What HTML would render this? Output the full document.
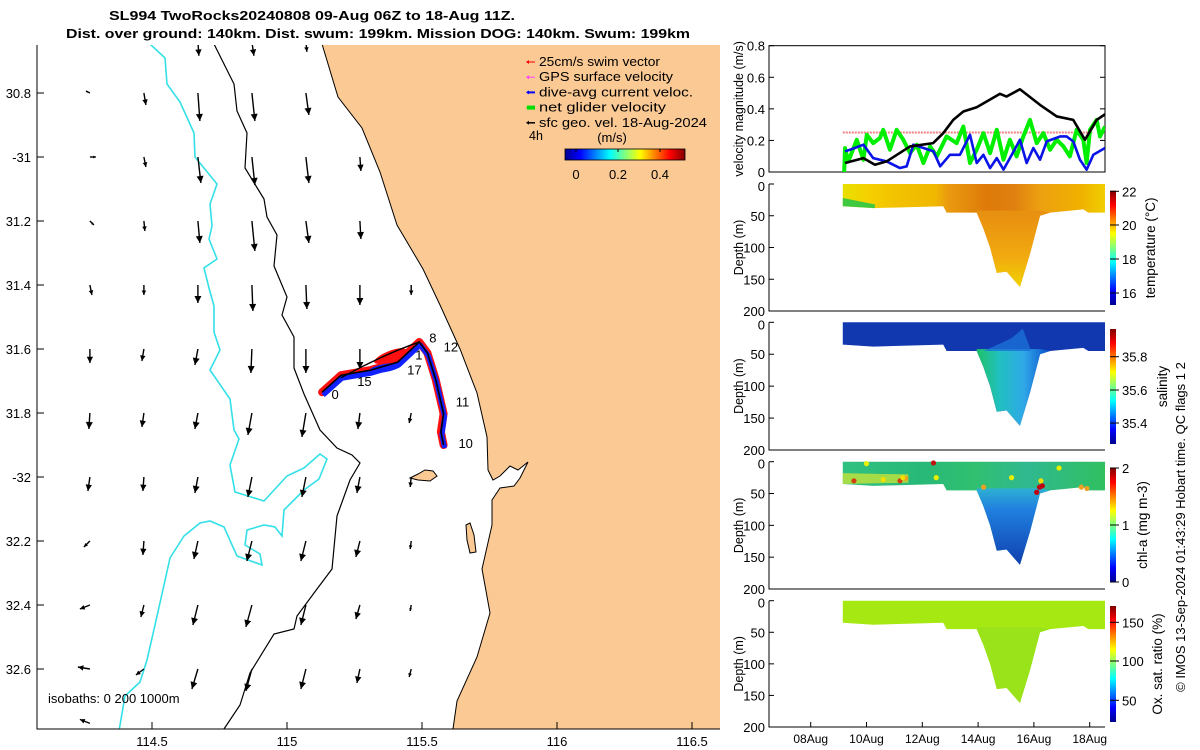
<!DOCTYPE html>
<html><head><meta charset="utf-8">
<style>
html,body{margin:0;padding:0;background:#fff;}
svg{display:block;font-family:"Liberation Sans","DejaVu Sans",sans-serif;}
</style></head>
<body>
<svg id="fig" width="1200" height="750" viewBox="0 0 1200 750" xmlns="http://www.w3.org/2000/svg">
<defs>
<linearGradient id="jetH" x1="0" y1="0" x2="1" y2="0">
<stop offset="0" stop-color="#00008f"/><stop offset="0.125" stop-color="#0000ff"/><stop offset="0.375" stop-color="#00ffff"/><stop offset="0.625" stop-color="#ffff00"/><stop offset="0.875" stop-color="#ff0000"/><stop offset="1" stop-color="#800000"/>
</linearGradient>
<linearGradient id="jetV" x1="0" y1="1" x2="0" y2="0">
<stop offset="0" stop-color="#00008f"/><stop offset="0.125" stop-color="#0000ff"/><stop offset="0.375" stop-color="#00ffff"/><stop offset="0.625" stop-color="#ffff00"/><stop offset="0.875" stop-color="#ff0000"/><stop offset="1" stop-color="#800000"/>
</linearGradient>
<linearGradient id="tempG" x1="843" y1="0" x2="1106" y2="0" gradientUnits="userSpaceOnUse">
<stop offset="0" stop-color="#e8e000"/><stop offset="0.1" stop-color="#f5d000"/><stop offset="0.2" stop-color="#f2c200"/><stop offset="0.35" stop-color="#f0b800"/><stop offset="0.4" stop-color="#ea9a10"/><stop offset="0.55" stop-color="#dd7a08"/><stop offset="0.65" stop-color="#e08010"/><stop offset="0.75" stop-color="#eca010"/><stop offset="0.9" stop-color="#f0b000"/><stop offset="1" stop-color="#f0d000"/>
</linearGradient>
<linearGradient id="tempTr" x1="0" y1="215" x2="0" y2="285" gradientUnits="userSpaceOnUse">
<stop offset="0" stop-color="#e89010"/><stop offset="0.6" stop-color="#f2aa10"/><stop offset="1" stop-color="#f0d000"/>
</linearGradient>
<linearGradient id="salTr" x1="975" y1="0" x2="1045" y2="0" gradientUnits="userSpaceOnUse">
<stop offset="0" stop-color="#20c060"/><stop offset="0.35" stop-color="#20c0c0"/><stop offset="0.7" stop-color="#30a8e8"/><stop offset="1" stop-color="#1060d0"/>
</linearGradient>
<linearGradient id="chlG" x1="843" y1="0" x2="1106" y2="0" gradientUnits="userSpaceOnUse">
<stop offset="0" stop-color="#30c080"/><stop offset="0.3" stop-color="#28b878"/><stop offset="0.5" stop-color="#30c070"/><stop offset="0.7" stop-color="#30b890"/><stop offset="1" stop-color="#30c060"/>
</linearGradient>
<linearGradient id="chlTr" x1="0" y1="485" x2="0" y2="565" gradientUnits="userSpaceOnUse">
<stop offset="0" stop-color="#30b8d0"/><stop offset="0.3" stop-color="#2080e0"/><stop offset="1" stop-color="#1040b0"/>
</linearGradient>
<clipPath id="mapclip"><rect x="37" y="45" width="683" height="684"/></clipPath>
</defs>
<rect x="0" y="0" width="1200" height="750" fill="#fff"/>
<g id="map"></g>
<g id="right"></g>
</svg>
<script>
const blackDays=[9.23,9.89,10.30,10.72,11.56,12.39,12.75,13.11,13.47,13.95,14.78,15.02,15.50,16.22,16.82,17.41,17.83,18.25,18.55];
const blackVals=[0.057,0.088,0.046,0.067,0.162,0.183,0.246,0.33,0.383,0.41,0.495,0.478,0.524,0.425,0.352,0.33,0.204,0.33,0.366];
const blueDays=[9.23,9.41,9.89,10.24,10.72,11.20,11.44,11.68,12.04,12.40,12.64,12.99,13.35,13.71,13.95,14.19,14.43,14.67,14.91,15.14,15.50,15.74,15.98,16.22,16.46,16.94,17.17,17.41,17.65,17.89,18.13,18.55];
const blueVals=[0.131,0.141,0.173,0.088,0.067,0.025,0.036,0.173,0.152,0.131,0.036,0.109,0.109,0.236,0.057,0.109,0.025,0.088,0.015,0.088,0.204,0.057,0.152,0.078,0.194,0.225,0.225,0.194,0.078,0.015,0.109,0.152];
const greenDays=[9.20,9.23,9.35,9.65,9.89,10.01,10.24,10.48,10.60,10.84,11.08,11.32,11.56,11.80,12.04,12.28,12.52,12.87,13.23,13.47,13.71,13.95,14.19,14.43,14.67,14.91,15.14,15.38,15.62,15.86,16.10,16.34,16.58,16.82,17.06,17.29,17.53,17.77,17.89,18.01,18.25,18.37,18.55];
const greenVals=[0,0.151,0.067,0.204,0.078,0.236,0.183,0.215,0.267,0.141,0.267,0.204,0.120,0.173,0.057,0.162,0.099,0.225,0.183,0.288,0.057,0.141,0.246,0.120,0.267,0.078,0.204,0.099,0.225,0.330,0.183,0.246,0.141,0.204,0.162,0.099,0.267,0.204,0.057,0.267,0.330,0.225,0.288];
const gpsLevel=[0.25];
const gpsRange=[9.15,18.1];
const profDays=[9.15,10.24,12.75,12.87,13.95,14.19,14.43,14.67,15.02,15.50,15.86,16.22,16.58,17.77,17.95,18.6];
const profDepth=[35,38,35,45,45,70,100,140,138,162,110,50,45,40,45,45];
const dateTicks=[8,10,12,14,16,18];
const dateLabels=["08Aug","10Aug","12Aug","14Aug","16Aug","18Aug"];
const velTicks=[0,0.2,0.4,0.6,0.8];
const depthTicks=[0,50,100,150,200];
const chlDotDays=[9.55,10.6,11.2,11.4,12.4,12.5,14.2,15.2,16.1,16.2,16.25,16.3,16.9,17.7,17.9,10.0,11.3];
const chlDotDepth=[30,28,30,26,2,25,40,25,48,40,30,38,10,40,42,3,25];
const chlDotCol=["#d04010","#f0e000","#d04010","#f0a020","#c01010","#e8f000","#f0a020","#e8f000","#c00010","#c00010","#f0e000","#c00010","#e8f000","#f0a020","#f0a020","#e8f000","#f0e000"];
const qLon=[114.27,114.47,114.67,114.87,115.07,115.27,115.46];
const qLat=[-30.64,-30.8,-31,-31.2,-31.4,-31.6,-31.8,-32,-32.2,-32.4,-32.6,-32.77];
const qU=[
[null,null,1,2,1,null,null],
[-4,2,2,3,3,null,null],
[6,2,3,3,3,1,null],
[4,1,2,3,3,1,null],
[2,0,0,1,1,0,0],
[0,-2,-3,-1,0,0,null],
[-1,-2,-3,-4,-4,-2,-2],
[-2,-1,-3,-4,-4,-3,-1],
[-6,-1,-4,-5,-5,-4,-1],
[-10,-3,-5,-6,-5,-4,-1],
[-12,-8,-6,-6,-5,-3,-2],
[-10,null,null,null,null,null,null]];
const qV=[
[null,null,14,14,10,null,null],
[-2,12,28,28,22,null,null],
[0,10,26,28,26,14,null],
[4,10,22,30,22,18,null],
[10,10,18,26,24,20,10],
[14,12,16,24,24,20,null],
[16,14,16,22,24,16,10],
[14,14,16,20,20,16,10],
[6,14,18,20,20,16,8],
[4,12,20,22,20,14,6],
[-2,6,20,22,20,14,8],
[-4,null,null,null,null,null,null]];
const lonTicks=[114.5,115,115.5,116,116.5];
const lonLabels=["114.5","115","115.5","116","116.5"];
const latTicks=[-30.8,-31,-31.2,-31.4,-31.6,-31.8,-32,-32.2,-32.4,-32.6];
const latLabels=["30.8","-31","31.2","31.4","31.6","31.8","-32","32.2","32.4","32.6"];
const trackLon=[115.13,115.20,115.31,115.41,115.49,115.52,115.55,115.58,115.57,115.58];
const trackLat=[-31.735,-31.682,-31.666,-31.641,-31.578,-31.612,-31.693,-31.802,-31.859,-31.900];
const trkLabels=["8","12","1","17","11","10","15","0"];
const trkLabLon=[115.527,115.58,115.475,115.445,115.625,115.635,115.26,115.165];
const trkLabLat=[-31.58,-31.608,-31.633,-31.68,-31.78,-31.91,-31.716,-31.756];

const NS="http://www.w3.org/2000/svg";
function mk(tag,attrs,parent,txt){const e=document.createElementNS(NS,tag);for(const k in attrs)e.setAttribute(k,attrs[k]);if(txt!==undefined)e.textContent=txt;parent.appendChild(e);return e;}
const map=document.getElementById('map'), right=document.getElementById('right');
const lonX=l=>152+(l-114.5)*270;
const latY=l=>93+(-30.8-l)*320;

const mg=mk('g',{'clip-path':'url(#mapclip)'},map);


const coast=[[322,44],[338,97],[362,128],[380,172],[397,225],[423,269],[440,305],[460,349],[477,393],[487,437],[488,470],[493,480],[500,476],[510,466],[518,470],[528,462],[520,478],[514,486],[500,488],[492,500],[492,525],[482,569],[490,613],[477,657],[457,701],[453,729]];
let land=mk('path',{d:"M720,40 L322,40 L"+coast.map(p=>p.join(",")).join(" L")+" L720,735 Z",fill:'#fbc994',stroke:'none'},mg);


let cl=mk('polyline',{points:coast.map(p=>p.join(",")).join(" "),fill:'none',stroke:'#000','stroke-width':1},mg);


let isl=mk('path',{d:"M410,478 L418,474 L425,470 L433,471 L437,476 L430,481 L418,480 Z",fill:'#fbc994',stroke:'#000','stroke-width':1},mg);


let isl2=mk('path',{d:"M466,525 L470,523 L474,535 L476,552 L470,553 L467,540 Z",fill:'#fbc994',stroke:'#000','stroke-width':1},mg);


const iso200=[[214,44],[234,84],[237,111],[247,133],[245,168],[264,199],[267,217],[277,235],[274,266],[287,297],[282,315],[294,337],[294,368],[304,394],[320,430],[337,448],[352,455],[360,463],[350,480],[337,516],[332,569],[317,589],[297,616],[294,629],[274,634],[250,673],[240,705],[224,729]];
let i2=mk('polyline',{points:iso200.map(p=>p.join(",")).join(" "),fill:'none',stroke:'#000','stroke-width':1.2},mg);


const iso1000=[[150,44],[165,58],[167,84],[180,102],[194,133],[195,157],[217,184],[210,204],[212,226],[209,239],[217,259],[204,268],[209,288],[214,306],[214,332],[220,350],[210,370],[230,399],[234,430],[239,439],[230,465],[235,492],[264,501],[287,476],[304,468],[320,454],[327,459],[319,479],[304,490],[284,510],[282,536],[275,527],[264,525],[247,530],[245,545],[260,554],[262,565],[237,556],[224,527],[210,521],[200,523],[184,536],[170,558],[164,585],[155,625],[147,660],[140,682],[125,696],[119,731]];
let i1=mk('polyline',{points:iso1000.map(p=>p.join(",")).join(" "),fill:'none',stroke:'#33e0e8','stroke-width':1.6},mg);


for(let r=0;r<qLat.length;r++){for(let c=0;c<qLon.length;c++){
  const u=qU[r][c],v=qV[r][c]; if(u===null||u===undefined)continue;
  const x0=lonX(qLon[c]),y0=latY(qLat[r]);const x1=x0+u,y1=y0+v;
  const g=mk('g',{},mg);
  
  
  mk('line',{x1:x0,y1:y0,x2:x1,y2:y1,stroke:'#000','stroke-width':1.4},g);
  const L=Math.hypot(u,v)||1,ux=u/L,uy=v/L,h=Math.min(7,L*0.45),w=h*0.5;
  mk('path',{d:`M${x1},${y1} L${x1-ux*h-uy*w},${y1-uy*h+ux*w} L${x1-ux*h+uy*w},${y1-uy*h-ux*w} Z`,fill:'#000'},g);
}}
const tp=trackLon.map((l,i)=>[lonX(l),latY(trackLat[i])]);
const tpts=tp.map(p=>p.join(",")).join(" ");
let sw1=mk('polyline',{points:tpts,fill:'none',stroke:'#ff1010','stroke-width':8,'stroke-linejoin':'round','stroke-linecap':'round'},mg);


let sw2=mk('polyline',{points:tp.map(p=>(p[0]+1)+","+(p[1]+3)).join(" "),fill:'none',stroke:'#1020ff','stroke-width':5,'stroke-linejoin':'round'},mg);


let blob=mk('ellipse',{cx:390,cy:356,rx:17,ry:5,transform:'rotate(-22 390 356)',fill:'#ff1010'},mg);


let blob2=mk('ellipse',{cx:385,cy:368,rx:16,ry:4,transform:'rotate(-10 385 368)',fill:'#1020ff'},mg);


let tr=mk('polyline',{points:tpts,fill:'none',stroke:'#000','stroke-width':1.6},mg);


let trk2=mk('path',{d:`M${lonX(115.2)},${latY(-31.69)} Q${lonX(115.35)},${latY(-31.62)} ${lonX(115.49)},${latY(-31.578)}`,fill:'none',stroke:'#000','stroke-width':1.4},mg);


trkLabels.forEach((t,i)=>{const e=mk('text',{x:lonX(trkLabLon[i]),y:latY(trkLabLat[i]),'font-size':13,fill:'#000'},mg,t);
 
 });
let ax=mk('path',{d:"M37,45 L37,729 L720,729",fill:'none',stroke:'#000','stroke-width':1},map);


lonTicks.forEach((l,i)=>{const x=lonX(l);mk('line',{x1:x,y1:729,x2:x,y2:722,stroke:'#000'},map);
 const t=mk('text',{x:x,y:746,'font-size':13,'text-anchor':'middle'},map,lonLabels[i]);
 
 });
latTicks.forEach((l,i)=>{const y=latY(l);mk('line',{x1:37,y1:y,x2:44,y2:y,stroke:'#000'},map);
 const t=mk('text',{x:31,y:y+5,'font-size':13,'text-anchor':'end'},map,latLabels[i]);
 
 });
let iso=mk('text',{x:48,y:703,'font-size':13},map,"isobaths: 0   200  1000m");


let t1=mk('text',{x:109,y:20,'font-size':13,'font-weight':'bold',textLength:406,lengthAdjust:'spacingAndGlyphs'},map,"SL994 TwoRocks20240808 09-Aug 06Z to 18-Aug 11Z.");


let t2=mk('text',{x:66,y:38,'font-size':13,'font-weight':'bold',textLength:624,lengthAdjust:'spacingAndGlyphs'},map,"Dist. over ground: 140km. Dist. swum: 199km. Mission DOG: 140km. Swum: 199km");


const legTxt=["25cm/s swim vector","GPS surface velocity","dive-avg current veloc.","net glider velocity","sfc geo. vel. 18-Aug-2024"];
const legCol=["#ff0000","#ff40ff","#0000ff","#00e000","#000000"];
const legW=[1,1,2,4,1.5];
legTxt.forEach((t,i)=>{const y=66+i*15.2;const g=mk('g',{},map);
 
 
 mk('line',{x1:527,y1:y-4,x2:535,y2:y-4,stroke:legCol[i],'stroke-width':legW[i]},g);
 mk('path',{d:`M526,${y-4} l3,-2 l0,4 Z`,fill:legCol[i]},g);
 mk('text',{x:539,y:y,'font-size':12.5,textLength:Math.round(t.length*6.7),lengthAdjust:'spacingAndGlyphs'},g,t);});
let h4=mk('text',{x:529,y:140,'font-size':12.5},map,"4h");


let ms=mk('text',{x:612,y:142,'font-size':13,'text-anchor':'middle'},map,"(m/s)");


let cb=mk('rect',{x:565,y:149,width:120,height:11,fill:'url(#jetH)',stroke:'#000','stroke-width':0.8},map);


[[576,"0"],[618,"0.2"],[660,"0.4"]].forEach(a=>{mk('line',{x1:a[0],y1:149,x2:a[0],y2:152,stroke:'#000'},map);
 const t=mk('text',{x:a[0],y:179,'font-size':13,'text-anchor':'middle'},map,a[1]);
 
 });

const X0=769,X1=1105;
const dayX=dd=>810.7+(dd-8)*27.9;
const panels=[{t:45.7,b:172},{t:184,b:311},{t:322.3,b:450},{t:461.7,b:589},{t:600.7,b:727}];
const cp=mk('clipPath',{id:'plotclip'},right);mk('rect',{x:X0,y:40,width:X1-X0,height:700},cp);
const P=panels[0];
const vY=v=>P.b-(v/0.8)*(P.b-P.t);
let vf=mk('rect',{x:X0,y:P.t,width:X1-X0,height:P.b-P.t,fill:'none',stroke:'#000','stroke-width':1},right);


velTicks.forEach(v=>{const y=vY(v);mk('line',{x1:X0,y1:y,x2:X0+5,y2:y,stroke:'#000'},right);mk('line',{x1:X1,y1:y,x2:X1-5,y2:y,stroke:'#000'},right);
 const t=mk('text',{x:X0-4,y:y+5,'font-size':13,'text-anchor':'end'},right,String(v));
 
 });
let gps=mk('line',{x1:dayX(gpsRange[0]),y1:vY(gpsLevel[0]),x2:dayX(gpsRange[1]),y2:vY(gpsLevel[0]),stroke:'#f08080','stroke-width':2,'stroke-dasharray':'2,1'},right);


function series(days,vals,col,w,name){const pl=mk('polyline',{points:days.map((dd,i)=>dayX(dd)+","+vY(vals[i])).join(" "),fill:'none',stroke:col,'stroke-width':w,'stroke-linejoin':'round','clip-path':'url(#plotclip)'},right);
 
 }
series(greenDays,greenVals,'#00ee00',4,'net-glider-velocity-series');
series(blueDays,blueVals,'#0a14e6',2.6,'dive-avg-current-series');
series(blackDays,blackVals,'#000',2.6,'sfc-geo-velocity-series');
let vyl=mk('text',{transform:`translate(743,${(P.t+P.b)/2}) rotate(-90)`,'font-size':12.5,'text-anchor':'middle'},right,"velocity magnitude (m/s)");



const fills=[{f:'url(#tempG)',tr:'url(#tempTr)',name:'temperature'},{f:'#1238b0',tr:'url(#salTr)',name:'salinity'},{f:'url(#chlG)',tr:'url(#chlTr)',name:'chl-a'},{f:'#a6e812',tr:'#9ae21a',name:'oxygen'}];
const cbInfo=[
 {top:190.7,bot:305,lab:"temperature (°C)",lx:1151,ticks:[[191.3,"22"],[225,"20"],[259,"18"],[293,"16"]]},
 {top:329,bot:444,lab:"salinity",lx:1163,ticks:[[356.7,"35.8"],[390,"35.6"],[423,"35.4"]]},
 {top:468,bot:582,lab:"chl-a (mg m-3)",lx:1143,ticks:[[468,"2"],[525,"1"],[582,"0"]]},
 {top:606,bot:722,lab:"Ox. sat. ratio (%)",lx:1158,ticks:[[622.3,"150"],[661,"100"],[700.3,"50"]]}];
for(let k=1;k<5;k++){
 const Q=panels[k];const dY=z=>Q.t+z/200*(Q.b-Q.t);
 const F=fills[k-1];
 let a=mk('path',{d:`M${X0},${Q.t} L${X0},${Q.b} L${X1},${Q.b}`,fill:'none',stroke:'#000','stroke-width':1},right);
 
 
 depthTicks.forEach(z=>{const y=dY(z);mk('line',{x1:X0,y1:y,x2:X0+5,y2:y,stroke:'#000'},right);
  const t=mk('text',{x:X0-4,y:y+(z===0?7:5),'font-size':13,'text-anchor':'end'},right,String(z));
  
  });
 let yl=mk('text',{transform:`translate(743,${(Q.t+Q.b)/2}) rotate(-90)`,'font-size':12.5,'text-anchor':'middle'},right,"Depth (m)");
 
 
 let pd=`M${dayX(profDays[0])},${dY(0)} L${dayX(profDays[profDays.length-1])},${dY(0)} `;
 for(let i=profDays.length-1;i>=0;i--)pd+=`L${dayX(profDays[i])},${dY(profDepth[i])} `;pd+="Z";
 const s=mk('path',{d:pd,fill:F.f,'clip-path':'url(#plotclip)'},right);
 
 
 let td=`M${dayX(13.95)},${dY(42)} `;
 for(let i=4;i<=12;i++)td+=`L${dayX(profDays[i])},${dY(Math.max(profDepth[i],42))} `;td+=`L${dayX(16.22)},${dY(42)} Z`;
 const tro=mk('path',{d:td,fill:F.tr,'clip-path':'url(#plotclip)'},right);
 
 
 if(k===1){const g=mk('path',{d:`M${dayX(9.15)},${dY(22)} L${dayX(10.3)},${dY(32)} L${dayX(10.3)},${dY(38)} L${dayX(9.15)},${dY(35)} Z`,fill:'#40c840'},right);
  
  }
 if(k===2){const g=mk('path',{d:`M${dayX(14.2)},${dY(45)} L${dayX(15.9)},${dY(45)} L${dayX(15.6)},${dY(10)} L${dayX(15.2)},${dY(25)} Z`,fill:'#1c70d8',opacity:0.8},right);
  
  }
 if(k===3){const y=mk('path',{d:`M${dayX(9.15)},${dY(18)} L${dayX(11.5)},${dY(20)} L${dayX(11.5)},${dY(33)} L${dayX(9.15)},${dY(35)} Z`,fill:'#d8e830',opacity:0.7},right);
  
  
  chlDotDays.forEach((dd,i)=>{const c=mk('circle',{cx:dayX(dd),cy:dY(chlDotDepth[i]),r:2.6,fill:chlDotCol[i]},right);
  
  });}
 const C=cbInfo[k-1];
 const r=mk('rect',{x:1110,y:C.top,width:6,height:C.bot-C.top,fill:'url(#jetV)'},right);
 
 
 C.ticks.forEach(tk=>{mk('line',{x1:1110,y1:tk[0],x2:1119,y2:tk[0],stroke:'#000','stroke-width':1},right);
  const t=mk('text',{x:1122,y:tk[0]+5,'font-size':13},right,tk[1]);
  
  });
 const lt=mk('text',{transform:`translate(${C.lx+4},${(C.top+C.bot)/2}) rotate(-90)`,'font-size':13.5,'text-anchor':'middle'},right,C.lab);
 
 
}
const Pb=panels[4];
dateTicks.forEach((dd,i)=>{const x=dayX(dd);mk('line',{x1:x,y1:Pb.b,x2:x,y2:Pb.b-5,stroke:'#000'},right);
 const t=mk('text',{x:x,y:Pb.b+16,'font-size':12,'text-anchor':'middle'},right,dateLabels[i]);
 
 });
let cr=mk('text',{transform:`translate(1185,${527}) rotate(-90)`,'font-size':13,'text-anchor':'middle'},right,"© IMOS 13-Sep-2024 01:43:29 Hobart time. QC flags 1  2");


</script>
</body></html>
